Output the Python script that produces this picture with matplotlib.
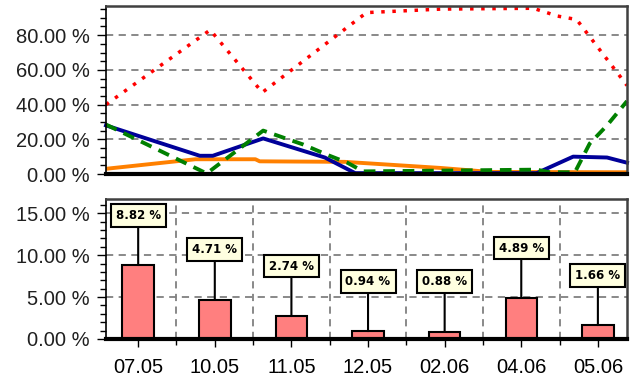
import matplotlib
matplotlib.use('Agg')
import matplotlib.pyplot as plt
from matplotlib.ticker import FuncFormatter, MultipleLocator

# top chart series (x in category index units, 0..6)
red_x = [0, 1.2, 1.8, 3.0, 3.85, 4.92, 5.2, 5.42, 6]
red_y = [40, 83, 47, 93, 95, 95.5, 91, 89, 51]

blue_x = [0, 1.08, 1.23, 1.81, 2.52, 2.87, 4.96, 5.38, 5.77, 6]
blue_y = [28, 10.5, 10.5, 20.5, 9.5, 0.5, 0.5, 10, 9.5, 6.5]

green_x = [0, 1.16, 1.81, 2.27, 2.55, 2.78, 2.96, 4.96, 5.11, 5.40, 5.57, 5.77, 6]
green_y = [28.5, 0.3, 25, 17, 11, 6.5, 1.5, 2.5, 1, 1, 17.5, 28, 42]

orange_x = [0, 1.03, 1.72, 1.77, 2.75, 3.85, 4.42, 6]
orange_y = [3, 8.5, 8.5, 7.3, 7, 3.5, 1.2, 1]

# bottom chart
dates = ['07.05', '10.05', '11.05', '12.05', '02.06', '04.06', '05.06']
values = [8.82, 4.71, 2.74, 0.94, 0.88, 4.89, 1.66]

plt.rcParams['font.family'] = ['Liberation Sans', 'DejaVu Sans']

fig = plt.figure(figsize=(6.31, 3.76), dpi=100)
ax1 = fig.add_axes([106/631, 1-174/376, 521/631, 168/376])
ax2 = fig.add_axes([106/631, 1-339/376, 521/631, 140/376])

pct = FuncFormatter(lambda v, p: '%.2f %%' % v)

def style(ax):
	for s in ['top', 'right']:
		ax.spines[s].set_color('#404040')
		ax.spines[s].set_linewidth(1.8)
	ax.spines['left'].set_color('black')
	ax.spines['left'].set_linewidth(1.2)
	ax.spines['bottom'].set_color('black')
	ax.spines['bottom'].set_linewidth(3)
	ax.yaxis.set_major_formatter(pct)
	ax.tick_params(axis='y', which='major', length=6.5, width=1, pad=5, labelsize=14.5, colors='black')
	ax.tick_params(axis='y', which='minor', length=4, width=1)
	for t in ax.get_yticklabels():
		t.set_color('#202020')

# top chart
ax1.set_xlim(0, 6)
ax1.set_ylim(0, 96.8)
ax1.yaxis.set_major_locator(MultipleLocator(20))
ax1.yaxis.set_minor_locator(MultipleLocator(5))
ax1.set_xticks([])
ax1.grid(axis='y', color='#808080', linestyle=(0, (4, 3)), linewidth=1.3)
ax1.set_axisbelow(True)
ax1.plot(orange_x, orange_y, color='#FF8000', lw=2.8, solid_capstyle='butt', clip_on=False)
ax1.plot(blue_x, blue_y, color='#000099', lw=2.8, clip_on=False)
ax1.plot(green_x, green_y, color='#008000', lw=2.8, linestyle=(0, (3, 2)), clip_on=False)
ax1.plot(red_x, red_y, color='#FF0000', lw=2.5, linestyle=(0, (1, 2.2)), clip_on=False)
style(ax1)
ax1.set_yticks([0, 20, 40, 60, 80])

# bottom chart
x = list(range(len(dates)))
ax2.set_xlim(-0.42, 6.38)
ax2.set_ylim(0, 16.7)
ax2.yaxis.set_major_locator(MultipleLocator(5))
ax2.yaxis.set_minor_locator(MultipleLocator(1))
ax2.set_xticks(x)
ax2.set_xticklabels(dates)
ax2.set_xticks([i + 0.5 for i in x[:-1]], minor=True)
ax2.grid(axis='y', which='major', color='#808080', linestyle=(0, (4, 3)), linewidth=1.3)
ax2.grid(axis='x', which='minor', color='#808080', linestyle=(0, (4, 3)), linewidth=1.3)
ax2.set_axisbelow(True)
ax2.bar(x, values, width=0.41, color='#FF7F7F', edgecolor='black', linewidth=1.5, zorder=2)
for i, v in zip(x, values):
	ax2.annotate('%.2f %%' % v, xy=(i, v), xytext=(0, 36), textcoords='offset points',
		ha='center', va='center', fontsize=8.5, family='DejaVu Sans', fontweight='bold',
		bbox=dict(boxstyle='square,pad=0.42', fc='#FFFFE0', ec='black', lw=1.5),
		arrowprops=dict(arrowstyle='-', color='black', lw=1.5, shrinkA=0, shrinkB=0),
		zorder=5)
style(ax2)
ax2.tick_params(axis='x', which='major', length=6, width=1, pad=8, labelsize=14.5)
ax2.tick_params(axis='x', which='minor', length=4, width=1)

fig.savefig('out.png', dpi=100)
